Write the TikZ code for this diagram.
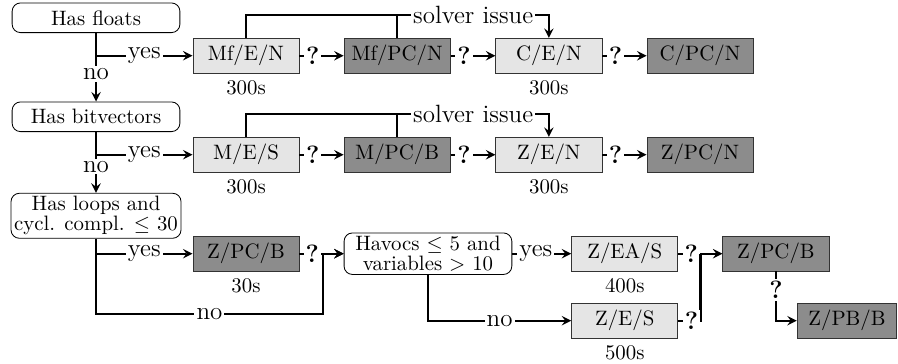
\documentclass[tikz,border=0pt]{standalone}
\usetikzlibrary{arrows}

\tikzstyle{decision} = [rectangle, rounded corners, minimum width=2.83cm, minimum height=0.5cm, inner sep=1.5pt, align=center, draw=black]
\tikzstyle{light} = [rectangle, minimum width=1.79cm, minimum height=0.5cm, draw=black!80, fill=gray!20]
\tikzstyle{dark} = [rectangle, minimum width=1.79cm, minimum height=0.5cm, draw=black!80, fill=black!45]
\tikzstyle{lbl} = [fill=white, inner sep=1pt, font=\large]
\tikzstyle{conn} = [line width=1pt]
\tikzstyle{arrow} = [line width=1pt, ->, >=stealth]

\begin{document}
\begin{tikzpicture}
	\useasboundingbox (-1.62,0.30) rectangle (13.53,-5.84);

	\node (floats) [decision] {Has floats};
	\node (mfe) [light, right of=floats, xshift=1.53cm, yshift=-0.64cm] {Mf/E/N};
	\node (mfpc) [dark, right of=mfe, xshift=1.55cm] {Mf/PC/N};
	\node (ce) [light, right of=mfpc, xshift=1.56cm] {C/E/N};
	\node (cpc) [dark, right of=ce, xshift=1.55cm] {C/PC/N};

	\node (bitv) [decision, below of=floats, yshift=-0.67cm] {Has bitvectors};
	\node (me) [light, below of=mfe, yshift=-0.67cm] {M/E/S};
	\node (mpc) [dark, right of=me, xshift=1.55cm] {M/PC/B};
	\node (ze) [light, right of=mpc, xshift=1.56cm] {Z/E/N};
	\node (zpc) [dark, right of=ze, xshift=1.55cm] {Z/PC/N};

	\node (loops) [decision, below of=bitv, yshift=-0.67cm] {Has loops and\\[-2.4pt]cycl. compl. $\leq$ 30};
	\node (zpcb) [dark, below of=me, yshift=-0.67cm] {Z/PC/B};
	\node (havocs) [decision, right of=zpcb, xshift=2.07cm] {Havocs $\leq$ 5 and\\[-2.4pt]variables $>$ 10};
	\node (zea) [light, right of=havocs, xshift=2.32cm] {Z/EA/S};
	\node (zes) [light, below of=zea, yshift=-0.13cm] {Z/E/S};
	\node (zpcbb) [dark, right of=zea, xshift=1.55cm] {Z/PC/B};
	\node (zpbb) [dark, below of=zpcbb, xshift=1.2cm, yshift=-0.13cm, minimum width=1.68cm] {Z/PB/B};

	% times
	\node (tmfe) [below of=mfe, yshift=0.46cm] {300s};
	\node (tce) [below of=ce, yshift=0.46cm] {300s};
	\node (tme) [below of=me, yshift=0.46cm] {300s};
	\node (tze) [below of=ze, yshift=0.46cm] {300s};
	\node (tzpcb) [below of=zpcb, yshift=0.46cm] {30s};
	\node (tzea) [below of=zea, yshift=0.46cm] {400s};
	\node (tzes) [below of=zes, yshift=0.46cm] {500s};

	\coordinate (j1) at ([xshift=-0.35cm]havocs.west);
	\coordinate (j2) at ([yshift=-1.01cm]j1);
	\coordinate (j3) at ([xshift=-0.37cm]zpcbb.west);

	% first row
	\draw [arrow] (floats) -- node[lbl, pos=0.6] {no} (bitv);
	\draw [arrow] (floats.south |- mfe) -- node[lbl] {yes} (mfe);
	\draw [arrow] (mfe) -- node[lbl, pos=0.3] {\textbf{?}} (mfpc);
	\draw [arrow] (mfpc) -- node[lbl, pos=0.3] {\textbf{?}} (ce);
	\draw [arrow] (ce) -- node[lbl, pos=0.3] {\textbf{?}} (cpc);
	\draw [arrow] (mfe.north) -- ++(0,0.39) -| node[lbl, pos=0.375] {solver issue} (ce.north);
	\draw [conn] (mfpc.north) -- ++(0,0.39);

	% second row
	\draw [arrow] (bitv) -- node[lbl, pos=0.57] {no} (loops);
	\draw [arrow] (bitv.south |- me) -- node[lbl] {yes} (me);
	\draw [arrow] (me) -- node[lbl, pos=0.3] {\textbf{?}} (mpc);
	\draw [arrow] (mpc) -- node[lbl, pos=0.3] {\textbf{?}} (ze);
	\draw [arrow] (ze) -- node[lbl, pos=0.3] {\textbf{?}} (zpc);
	\draw [arrow] (me.north) -- ++(0,0.39) -| node[lbl, pos=0.375] {solver issue} (ze.north);
	\draw [conn] (mpc.north) -- ++(0,0.39);

	% third row
	\draw [arrow] (loops.south |- zpcb) -- node[lbl] {yes} (zpcb);
	\draw [arrow] (loops.south) |- node[lbl, pos=0.75] {no} (j2) -- (j1) -- (havocs);
	\draw [arrow] (zpcb) -- node[lbl, pos=0.55] {\textbf{?}} (j1) -- (havocs);
	\draw [arrow] (havocs) -- node[lbl, pos=0.4] {yes} (zea);
	\draw [arrow] (havocs) |- node[lbl, pos=0.75] {no} (zes);
	\draw [arrow] (zea) -- node[lbl, pos=0.59] {\textbf{?}} (j3) -- (zpcbb);
	\draw [conn] (zes) -| node[lbl, pos=0.3] {\textbf{?}} (j3);
	\draw [arrow] (zpcbb) |- node[lbl, pos=0.19] {\textbf{?}} (zpbb);
\end{tikzpicture}
\end{document}
